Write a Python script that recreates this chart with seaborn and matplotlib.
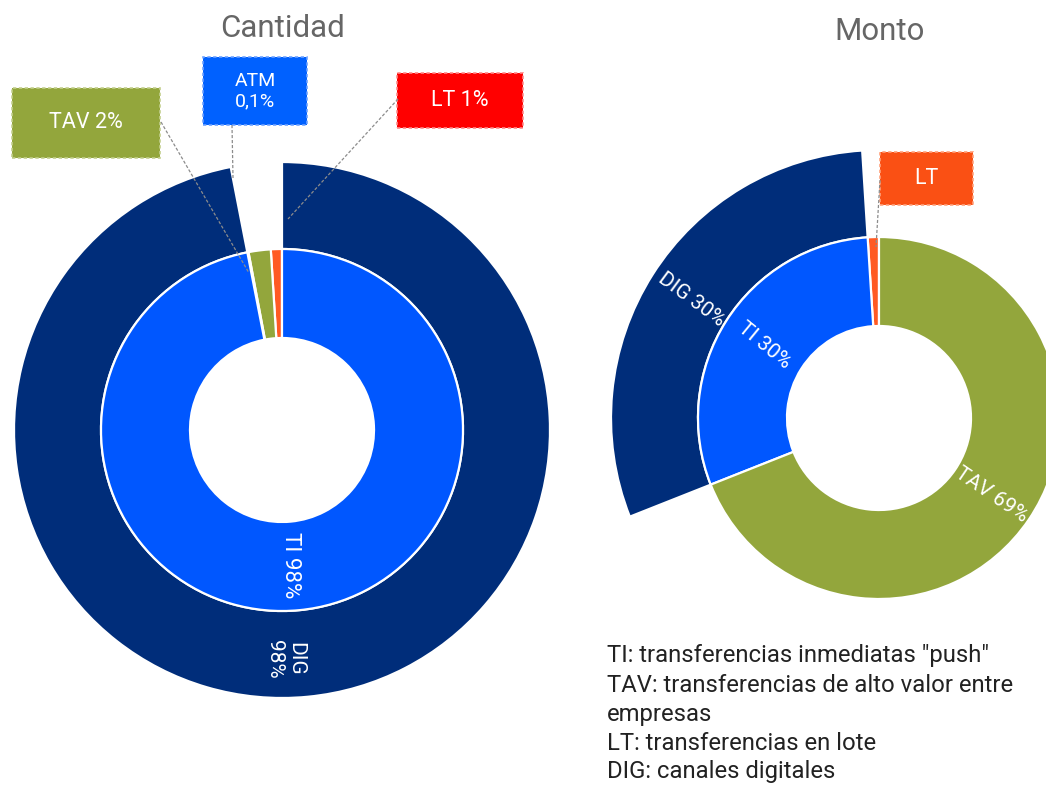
import matplotlib.pyplot as plt
import seaborn as sns
from matplotlib.patches import Rectangle
import numpy as np

sns.set_theme(style="white")
plt.rcParams["font.family"] = ["Roboto", "DejaVu Sans"]

# --- data ---
# Cantidad (counterclockwise from 12 o'clock)
cant_inner_labels = ["LT", "TAV", "ATM", "TI"]
cant_inner_values = [1, 2, 0.1, 98]
cant_outer_labels = ["", "DIG"]
cant_outer_values = [3.1, 98]

# Monto
monto_inner_labels = ["LT", "TI", "TAV"]
monto_inner_values = [1, 30, 69]
monto_outer_labels = ["", "DIG", ""]
monto_outer_values = [1, 30, 69]

glossary = [
    'TI: transferencias inmediatas "push"',
    "TAV: transferencias de alto valor entre",
    "empresas",
    "LT: transferencias en lote",
    "DIG: canales digitales",
]

palette = {
    "TI": "#0057FF",
    "ATM": "#0057FF",
    "TAV": "#93A63C",
    "LT": "#FF5A23",
    "DIG": "#002D7A",
    "": "none",
}

W, H = 1046, 785


def py(y):
    # image pixel row -> data y
    return H - y


R_OUT, R_MID, R_HOLE = 268, 181, 92

fig = plt.figure(figsize=(W / 100, H / 100), dpi=100)
ax = fig.add_axes([0, 0, 1, 1])


def donut(center, inner_vals, inner_labs, outer_vals, outer_labs):
    wp = dict(edgecolor="white", linewidth=1.6)
    outer, _ = ax.pie(
        outer_vals, radius=R_OUT, center=center, startangle=90, counterclock=True,
        colors=[palette[l] for l in outer_labs],
        wedgeprops=dict(width=R_OUT - R_MID, **wp),
    )
    for w, l in zip(outer, outer_labs):
        if l == "":
            w.set_edgecolor("none")
    inner, _ = ax.pie(
        inner_vals, radius=R_MID, center=center, startangle=90, counterclock=True,
        colors=[palette[l] for l in inner_labs],
        wedgeprops=dict(width=R_MID - R_HOLE, **wp),
    )
    return outer, inner


def wedge_text(center, r, ang, txt, rot, size=15):
    a = np.deg2rad(ang)
    ax.text(center[0] + r * np.cos(a), center[1] + r * np.sin(a), txt,
            rotation=rot, rotation_mode="anchor", ha="center", va="center",
            color="white", fontsize=size, linespacing=1.15)


def callout(x0, y0, x1, y1, fc, ec, txt, size=15.5):
    ax.add_patch(Rectangle((x0, py(y1)), x1 - x0, y1 - y0, facecolor=fc,
                           edgecolor=ec, linestyle=(0, (2, 1.5)), linewidth=1.2))
    ax.text((x0 + x1) / 2, py((y0 + y1) / 2), txt, ha="center", va="center",
            color="white", fontsize=size, linespacing=1.2)


def leader(x0, y0, x1, y1):
    ax.plot([x0, x1], [py(y0), py(y1)], color="#8c8c8c", lw=0.9,
            linestyle=(0, (2.5, 1.5)))


# --- Cantidad ---
c_left = (282, py(430))
donut(c_left, cant_inner_values, cant_inner_labels, cant_outer_values, cant_outer_labels)
wedge_text(c_left, 135, -86.6, "TI 98%", -90, size=16)
wedge_text(c_left, 229, -89.3, "DIG\n98%", -90)

# --- Monto ---
c_right = (879, py(418))
m_outer, m_inner = donut(c_right, monto_inner_values, monto_inner_labels,
                         monto_outer_values, monto_outer_labels)
for w, l, r, extra in [(m_outer[1], "DIG 30%", 222, -4), (m_inner[1], "TI 30%", 136, -7),
                       (m_inner[2], "TAV 69%", 136, 0)]:
    mid = (w.theta1 + w.theta2) / 2
    if mid > 270:
        rot = mid - 360
    elif mid > 90:
        rot = mid - 180
    else:
        rot = mid
    wedge_text(c_right, r, mid, l, rot + extra)

# callouts and leader lines
leader(161, 122, 249, 273)
leader(232, 125, 233, 178)
leader(398, 99, 288, 219)
leader(880, 180, 876, 247)
callout(12, 88, 160, 158, "#93A63C", "#C3CF8E", "TAV 2%")
callout(203, 57, 307, 125, "#0061FF", "#6FA3FF", "ATM\n0,1%", size=14)
callout(397, 73, 523, 128, "#FF0000", "#FF8A8A", "LT 1%")
callout(880, 152, 973, 205, "#FA5014", "#FFA27D", "LT")

# titles
ax.text(282, py(37), "Cantidad", ha="center", va="baseline", fontsize=22.5, color="#666666")
ax.text(880, py(40), "Monto", ha="center", va="baseline", fontsize=22.5, color="#666666")

# glossary
for txt, base in zip(glossary, [662, 692, 721, 750, 778]):
    ax.text(607, py(base), txt, ha="left", va="baseline", fontsize=17.2, color="#222222")

ax.set_xlim(0, W)
ax.set_ylim(0, H)
ax.set_aspect("equal")
ax.axis("off")

fig.savefig("out.png", dpi=100)
